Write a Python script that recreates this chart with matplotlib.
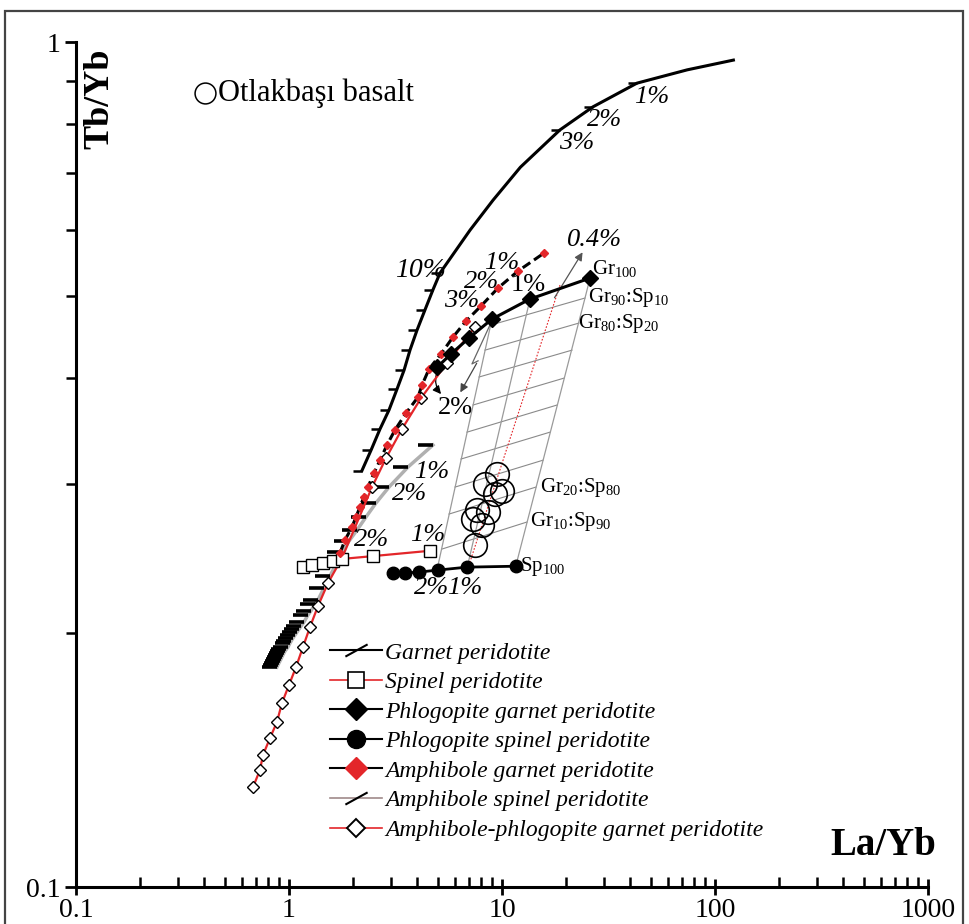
import matplotlib
matplotlib.use('Agg')
import matplotlib.pyplot as plt
from matplotlib.path import Path
from matplotlib.lines import Line2D
from matplotlib.patches import Rectangle
from matplotlib.ticker import LogLocator, FuncFormatter, NullFormatter

plt.rcParams['font.family'] = ['Liberation Serif', 'DejaVu Serif']
plt.rcParams['mathtext.fontset'] = 'custom'
plt.rcParams['mathtext.rm'] = 'Liberation Serif'
plt.rcParams['mathtext.it'] = 'Liberation Serif:italic'
plt.rcParams['mathtext.bf'] = 'Liberation Serif:bold'

# melting curves, La/Yb vs Tb/Yb
garnet_la = [2.20, 2.43, 2.67, 2.95, 3.21, 3.47, 3.70, 3.99, 4.35, 4.74, 5.12, 7.08, 9.08, 12.2, 18.7, 26.7, 43.0, 74.0, 122]
garnet_tb = [0.311, 0.329, 0.348, 0.367, 0.388, 0.409, 0.432, 0.456, 0.482, 0.509, 0.533, 0.599, 0.650, 0.711, 0.787, 0.838, 0.894, 0.927, 0.952]
garnet_ticks = [0, 1, 2, 3, 4, 5, 6, 7, 8, 9, 10, 14, 15, 16]

spinel_la = [1.163, 1.282, 1.444, 1.609, 1.774, 2.48, 4.59]
spinel_tb = [0.239, 0.2405, 0.2416, 0.243, 0.2445, 0.2464, 0.250]

phl_gt_la = [4.95, 5.76, 7.00, 8.97, 13.5, 25.9]
phl_gt_tb = [0.412, 0.4274, 0.4464, 0.470, 0.4963, 0.5256]

phl_sp_la = [3.08, 3.50, 4.07, 5.01, 6.85, 11.6]
phl_sp_tb = [0.2353, 0.2353, 0.2359, 0.2372, 0.2391, 0.2397]

amp_gt_la = [1.735, 1.832, 1.976, 2.064, 2.154, 2.250, 2.349, 2.506, 2.675, 2.884, 3.146, 3.543,
             4.033, 4.212, 4.543, 5.171, 5.889, 6.776, 7.970, 9.577, 11.89, 15.74]
amp_gt_tb = [0.2485, 0.2574, 0.2667, 0.2741, 0.2817, 0.2895, 0.2974, 0.309, 0.320, 0.3335, 0.3475, 0.3638,
             0.380, 0.3926, 0.4102, 0.4274, 0.4476, 0.4675, 0.4871, 0.5115, 0.5358, 0.5626]

amp_sp_la = [0.878, 0.887, 0.897, 0.907, 0.917, 0.927, 0.937, 0.947, 0.958, 0.973, 0.989, 1.011, 1.027, 1.044,
             1.067, 1.090, 1.114, 1.139, 1.176, 1.228, 1.268, 1.325, 1.369, 1.460, 1.558, 1.663, 1.774,
             1.913, 2.086, 2.299, 2.562, 2.948, 3.621, 4.742]
amp_sp_tb = [0.1821, 0.1831, 0.1841, 0.1851, 0.1861, 0.1872, 0.1882, 0.1892, 0.1902, 0.1912, 0.1923, 0.1944,
             0.1957, 0.1971, 0.1987, 0.2003, 0.2019, 0.2036, 0.2059, 0.2099, 0.2122, 0.2163, 0.2187, 0.2259,
             0.2334, 0.2411, 0.2491, 0.2567, 0.2645, 0.2741, 0.2848, 0.2974, 0.3141, 0.3335]

amp_phl_la = [0.678, 0.731, 0.755, 0.814, 0.878, 0.927, 1.0, 1.079, 1.163, 1.255, 1.369, 1.525, 1.774,
              2.454, 2.854, 3.393, 4.167, 5.52, 7.47]
amp_phl_tb = [0.1313, 0.1376, 0.1433, 0.150, 0.1568, 0.1651, 0.1734, 0.1821, 0.1923, 0.2031, 0.2151, 0.2290, 0.2451,
              0.2974, 0.3218, 0.3484, 0.379, 0.417, 0.460]

# Otlakbasi samples
basalt_la = [9.47, 8.32, 10.0, 9.27, 7.63, 8.60, 7.31, 8.06, 7.47]
basalt_tb = [0.3082, 0.2998, 0.2942, 0.2918, 0.2793, 0.2778, 0.2725, 0.2681, 0.2539]

# mixing grid Gr:Sp
mix_names = ['90', '80', '70', '60', '50', '40', '30', '20', '10']
mix_left_la = [8.88, 8.32, 7.80, 7.31, 6.85, 6.42, 6.02, 5.64, 5.23]
mix_left_tb = [0.4625, 0.4319, 0.4014, 0.3719, 0.3454, 0.3210, 0.2974, 0.2763, 0.2512]
mix_right_la = [24.53, 22.99, 21.31, 19.55, 18.13, 16.80, 15.58, 14.44, 13.11]
mix_right_tb = [0.4978, 0.4650, 0.4319, 0.4002, 0.3719, 0.3454, 0.320, 0.2974, 0.2704]

grid_left_la, grid_left_tb = [8.97, 4.952], [0.470, 0.2372]
grid_mid_la, grid_mid_tb = [13.54, 6.85], [0.4964, 0.2385]
grid_right_la, grid_right_tb = [25.9, 24.53, 11.6], [0.5256, 0.4978, 0.2397]
red_dot_la, red_dot_tb = [18.72, 6.925], [0.5157, 0.2385]
zigzag_la, zigzag_tb = [8.78, 7.23, 7.72], [0.4625, 0.416, 0.4195]

dash_left = Path([(-1, 0), (0, 0)])
slash = Path([(-1, -0.55), (1, 0.55)])
RED = '#e3262a'

fig = plt.figure(figsize=(9.69, 9.24), dpi=100)
ax = fig.add_axes([0.0784, 0.04, 0.8793, 0.9145])
ax.set_xscale('log')
ax.set_yscale('log')
ax.set_xlim(0.1, 1000)
ax.set_ylim(0.1, 1)

# grid of mixing
for i in range(len(mix_names)):
    ax.plot([mix_left_la[i], mix_right_la[i]], [mix_left_tb[i], mix_right_tb[i]], color='#8a8a8a', lw=0.8, zorder=1)
for gx, gy in [(grid_left_la, grid_left_tb), (grid_mid_la, grid_mid_tb), (grid_right_la, grid_right_tb)]:
    ax.plot(gx, gy, color='#9a9a9a', lw=0.9, zorder=1)
ax.plot(red_dot_la, red_dot_tb, color=RED, lw=0.8, ls=(0, (1.5, 1.5)), zorder=1)

# curves
ax.plot(amp_sp_la, amp_sp_tb, color='#b0b0b0', lw=2.5, zorder=2)
ax.plot(amp_sp_la, amp_sp_tb, ls='none', marker=dash_left, ms=22, mew=2.6, mec='k', zorder=3)
ax.plot(garnet_la, garnet_tb, color='k', lw=2.2, zorder=3)
ax.plot(garnet_la, garnet_tb, ls='none', marker=dash_left, ms=13, mew=1.8, mec='k',
        markevery=garnet_ticks, zorder=3)
ax.plot(amp_phl_la, amp_phl_tb, color=RED, lw=1.6, marker='D', ms=6.5, mfc='white', mec='k', mew=1, zorder=4)
ax.plot(spinel_la, spinel_tb, color=RED, lw=1.6, marker='s', ms=8, mfc='white', mec='k', mew=1, zorder=4)
ax.plot(amp_gt_la, amp_gt_tb, color='k', lw=2.2, ls=(0, (3, 1.5)), marker='D', ms=3.6, mfc=RED, mec=RED, zorder=5)
ax.plot(phl_gt_la, phl_gt_tb, color='k', lw=2.2, marker='D', ms=8, mfc='k', mec='k', zorder=5)
ax.plot(phl_sp_la, phl_sp_tb, color='k', lw=2, marker='o', ms=9, mfc='k', mec='k', zorder=5)

ax.plot(basalt_la, basalt_tb, ls='none', marker='o', ms=17, mfc='none', mec='k', mew=1.2, zorder=6)

# arrows
ax.annotate('', xy=(24.27, 0.5675), xytext=(17.36, 0.495),
            arrowprops=dict(arrowstyle='-|>', color='#555555', lw=0.9, mutation_scale=12), zorder=2)
ax.plot(zigzag_la, zigzag_tb, color='#666666', lw=0.9, zorder=2)
ax.annotate('', xy=(6.28, 0.3824), xytext=(7.72, 0.4195),
            arrowprops=dict(arrowstyle='-|>', color='#444444', lw=0.9, mutation_scale=12), zorder=2)
ax.annotate('', xy=(5.28, 0.381), xytext=(4.95, 0.407),
            arrowprops=dict(arrowstyle='-|>', color='k', lw=0.9, mutation_scale=12,
                            connectionstyle='arc3,rad=0.3'), zorder=2)

# percent labels
pct_it = dict(fontsize=19, style='italic', ha='center', va='center', zorder=7)
ax.text(50.6, 0.861, '1%', **pct_it)
ax.text(30.4, 0.8085, '2%', **pct_it)
ax.text(22.5, 0.7592, '3%', **pct_it)
ax.text(4.12, 0.5373, '10%', fontsize=20, style='italic', ha='center', va='center')
ax.text(10.0, 0.5477, '1%', **pct_it)
ax.text(8.06, 0.520, '2%', **pct_it)
ax.text(6.49, 0.4937, '3%', **pct_it)
ax.text(13.24, 0.5158, '1%', fontsize=19, ha='center', va='center')
ax.text(27.33, 0.583, '0.4%', **pct_it)
ax.text(6.02, 0.3688, '2%', fontsize=19, ha='center', va='center')
ax.text(4.69, 0.310, '1%', **pct_it)
ax.text(3.70, 0.2918, '2%', **pct_it)
ax.text(2.454, 0.2574, '2%', **pct_it)
ax.text(4.49, 0.2609, '1%', **pct_it)
ax.text(4.69, 0.2259, '2%', **pct_it)
ax.text(6.71, 0.2259, '1%', **pct_it)

# mixing labels
gr = dict(fontsize=15, ha='left', va='center')
ax.text(26.46, 0.540, r'Gr$_{\mathit{100}}$', **gr)
ax.text(25.34, 0.4991, r'Gr$_{\mathit{90}}$:Sp$_{\mathit{10}}$', **gr)
ax.text(22.75, 0.4650, r'Gr$_{\mathit{80}}$:Sp$_{\mathit{20}}$', **gr)
ax.text(15.08, 0.2974, r'Gr$_{\mathit{20}}$:Sp$_{\mathit{80}}$', **gr)
ax.text(13.54, 0.2704, r'Gr$_{\mathit{10}}$:Sp$_{\mathit{90}}$', **gr)
ax.text(12.15, 0.2397, r'Sp$_{\mathit{100}}$', **gr)

# sample key
ax.plot([0.1514], [0.9396], transform=ax.transAxes, marker='o', ms=15, mfc='none', mec='k', mew=1.1, clip_on=False)
ax.text(0.1667, 0.9396, 'Otlakbaşı basalt', transform=ax.transAxes, fontsize=22, ha='left', va='center')

# axis titles inside
ax.text(0.028, 0.9325, 'Tb/Yb', transform=ax.transAxes, fontsize=26, fontweight='bold',
        rotation=90, ha='center', va='center')
ax.text(0.948, 0.0497, 'La/Yb', transform=ax.transAxes, fontsize=28, fontweight='bold',
        ha='center', va='center')

# axes styling
for s in ['top', 'right']:
    ax.spines[s].set_visible(False)
for s in ['left', 'bottom']:
    ax.spines[s].set_linewidth(2.2)
fmt = FuncFormatter(lambda v, p: '%g' % v)
ax.xaxis.set_major_locator(LogLocator(base=10, numticks=10))
ax.xaxis.set_minor_locator(LogLocator(base=10, subs=range(2, 10), numticks=20))
ax.yaxis.set_major_locator(LogLocator(base=10, numticks=10))
ax.yaxis.set_minor_locator(LogLocator(base=10, subs=range(2, 10), numticks=20))
ax.xaxis.set_major_formatter(fmt)
ax.yaxis.set_major_formatter(fmt)
ax.xaxis.set_minor_formatter(NullFormatter())
ax.yaxis.set_minor_formatter(NullFormatter())
ax.tick_params(axis='x', which='major', direction='inout', length=12, width=2, labelsize=20, pad=2)
ax.tick_params(axis='x', which='minor', direction='in', length=7, width=1.8)
ax.tick_params(axis='y', which='major', direction='out', length=8, width=2, labelsize=20, pad=3)
ax.tick_params(axis='y', which='minor', direction='out', length=7, width=1.8)

# legend
handles = [
    Line2D([], [], color='k', lw=1.5, marker=slash, ms=16, mew=1.5, mec='k'),
    Line2D([], [], color=RED, lw=1.2, marker='s', ms=11, mfc='white', mec='k', mew=1.2),
    Line2D([], [], color='k', lw=1.5, marker='D', ms=11, mfc='k', mec='k'),
    Line2D([], [], color='k', lw=1.5, marker='o', ms=13, mfc='k', mec='k'),
    Line2D([], [], color='k', lw=1.5, marker='D', ms=11, mfc=RED, mec=RED),
    Line2D([], [], color='#a08a8a', lw=1.2, marker=slash, ms=16, mew=1.5, mec='k'),
    Line2D([], [], color=RED, lw=1.2, marker='D', ms=9, mfc='white', mec='k', mew=1.4),
]
labels = ['Garnet peridotite', 'Spinel peridotite', 'Phlogopite garnet peridotite',
          'Phlogopite spinel peridotite', 'Amphibole garnet peridotite',
          'Amphibole spinel peridotite', 'Amphibole-phlogopite garnet peridotite']
ax.legend(handles, labels, loc='upper left', bbox_to_anchor=(0.298, 0.29), frameon=False,
          prop=dict(family=['Liberation Serif'], style='italic', size=17),
          handlelength=2.2, handletextpad=0.15, labelspacing=0.34, borderpad=0, borderaxespad=0)

# outer frame
fig.patches.append(Rectangle((0.005, -0.02), 0.989, 1.008, transform=fig.transFigure,
                             fill=False, edgecolor='#444444', lw=1.6))

fig.savefig('out.png', dpi=100)
